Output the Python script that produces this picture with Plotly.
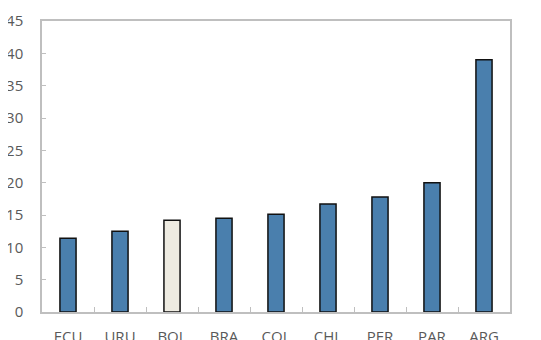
import plotly.graph_objects as go

countries = ['ECU', 'URU', 'BOL', 'BRA', 'COL', 'CHL', 'PER', 'PAR', 'ARG']
values = [11.4, 12.5, 14.2, 14.5, 15.1, 16.7, 17.8, 20.0, 39.0]
highlight = 'BOL'

BLUE = '#4a7fad'
BEIGE = '#eeebe1'
AXIS = '#bfbfbf'
TXT = '#595959'

colors = [BEIGE if c == highlight else BLUE for c in countries]

fig = go.Figure(go.Bar(
    x=countries, y=values,
    marker=dict(color=colors, line=dict(color='#111111', width=1.5)),
))

# page body adds ~8px offset, margins compensate for it
fig.update_layout(
    width=541, height=340,
    margin=dict(l=34, r=39, t=13, b=36, autoexpand=False),
    paper_bgcolor='white', plot_bgcolor='white',
    bargap=0.69,
    showlegend=False,
    font=dict(family='Open Sans', size=15, color=TXT),
)
fig.update_xaxes(
    showline=True, linecolor=AXIS, linewidth=1.5, mirror=True,
    ticks='inside', tickson='boundaries', ticklen=5, tickcolor=AXIS,
    showgrid=False, ticklabelstandoff=10, automargin=False,
)
fig.update_yaxes(
    range=[0, 45], dtick=5,
    showline=True, linecolor=AXIS, linewidth=1.5, mirror=True,
    ticks='inside', ticklen=4, tickcolor=AXIS,
    showgrid=False, zeroline=False, ticklabelstandoff=14, automargin=False,
)

fig.write_html("out.html")
